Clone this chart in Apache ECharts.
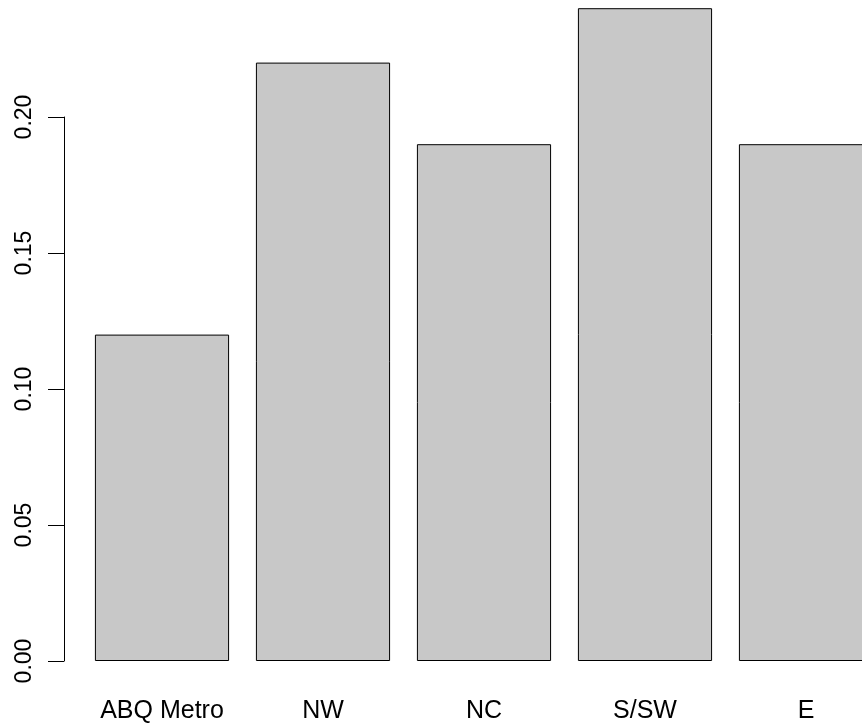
<!DOCTYPE html>
<html>
<head>
<meta charset="utf-8">
<script src="https://cdn.jsdelivr.net/npm/echarts@6/dist/echarts.min.js"></script>
<style>html,body{margin:0;padding:0;background:#fff}#c{width:862px;height:726px}</style>
</head>
<body>
<div id="c"></div>
<script>
var categories = ['ABQ Metro', 'NW', 'NC', 'S/SW', 'E'];
var values = [0.12, 0.22, 0.19, 0.24, 0.19];
var yTicks = [0, 0.05, 0.10, 0.15, 0.20];

var chart = echarts.init(document.getElementById('c'), null, {renderer: 'canvas'});
var font = 'Liberation Sans, Arial, Helvetica, sans-serif';
chart.setOption({
  animation: false,
  backgroundColor: '#ffffff',
  grid: [
    {left: 81.5, width: 805, top: 8.2, bottom: 65, outerBoundsMode: 'none', containLabel: false},
    {left: 64, width: 10, top: 117, bottom: 65, outerBoundsMode: 'none', containLabel: false}
  ],
  xAxis: [
    {gridIndex: 0, type: 'category', data: categories,
     axisLine: {show: false}, axisTick: {show: false},
     axisLabel: {color: '#000', fontSize: 25, fontFamily: font, margin: 38, interval: 0}},
    {gridIndex: 1, type: 'category', data: [''], show: false}
  ],
  yAxis: [
    {gridIndex: 0, type: 'value', min: 0, max: 0.24, show: false, splitLine: {show: false}},
    {gridIndex: 1, type: 'value', min: yTicks[0], max: yTicks[yTicks.length - 1], interval: 0.05,
     axisLine: {show: true, lineStyle: {color: '#000', width: 1}},
     axisTick: {show: true, length: 16, lineStyle: {color: '#000', width: 1}},
     splitLine: {show: false},
     axisLabel: {color: '#000', fontSize: 23, fontFamily: font, rotate: 90, margin: 28,
       formatter: function (v) { return v.toFixed(2); }}}
  ],
  series: [{
    type: 'bar', xAxisIndex: 0, yAxisIndex: 0,
    data: values,
    barCategoryGap: '16.67%',
    itemStyle: {color: '#C8C8C8', borderColor: '#000', borderWidth: 1}
  }]
});
</script>
</body>
</html>
